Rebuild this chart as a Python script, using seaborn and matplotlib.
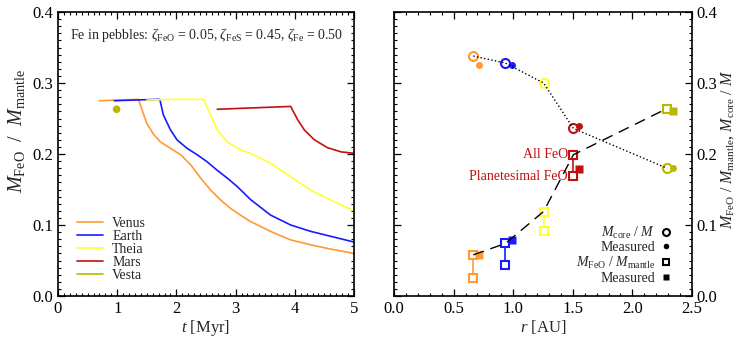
import numpy as np
import pandas as pd
import matplotlib
matplotlib.use('Agg')
import matplotlib.pyplot as plt
from matplotlib.lines import Line2D
from matplotlib.ticker import MultipleLocator, FormatStrFormatter
import seaborn as sns

# =============================================================================
# Data
# =============================================================================

# left panel: FeO mass fraction of the mantle over time
venus_t = [0.70, 1.00, 1.36, 1.42, 1.50, 1.62, 1.73, 1.90, 2.07, 2.24, 2.41, 2.58, 2.75, 2.92,
           3.08, 3.25, 3.59, 3.93, 4.27, 4.61, 5.00]
venus_f = [0.275, 0.276, 0.277, 0.262, 0.243, 0.227, 0.217, 0.208, 0.199, 0.185, 0.166, 0.149, 0.135,
           0.123, 0.114, 0.105, 0.091, 0.079, 0.072, 0.066, 0.060]
earth_t = [0.95, 1.30, 1.72, 1.78, 1.90, 2.01, 2.18, 2.35, 2.52, 2.69, 2.86, 3.03, 3.25, 3.59,
           3.93, 4.27, 4.61, 5.00]
earth_f = [0.275, 0.276, 0.277, 0.255, 0.234, 0.220, 0.208, 0.199, 0.189, 0.177, 0.166, 0.154, 0.136,
           0.114, 0.100, 0.091, 0.084, 0.076]
theia_t = [1.50, 2.00, 2.46, 2.55, 2.69, 2.86, 3.08, 3.25, 3.59, 3.93, 4.27, 4.61, 5.00]
theia_f = [0.276, 0.277, 0.277, 0.260, 0.234, 0.217, 0.206, 0.201, 0.187, 0.168, 0.149, 0.135, 0.120]
mars_t = [2.69, 3.30, 3.93, 4.05, 4.16, 4.33, 4.55, 4.78, 5.00]
mars_f = [0.263, 0.265, 0.267, 0.248, 0.234, 0.220, 0.209, 0.203, 0.201]
vesta_t = [0.99]
vesta_f = [0.263]

# right panel: per body at its orbital distance
bodies = ['Venus', 'Earth', 'Theia', 'Mars', 'Vesta']
colors = ['#ff9933', '#1a1aff', '#ffff33', '#c01010', '#b8b800']
r_model = [0.665, 0.935, 1.255, 1.505, 2.29]
r_meas = [0.715, 0.99, None, 1.55, 2.34]
core_model = [0.338, 0.328, 0.300, 0.236, 0.180]
core_meas = [0.325, 0.325, None, 0.240, 0.180]
feo_all = [0.058, 0.074, 0.119, 0.199, 0.264]
feo_plan = [0.026, 0.044, 0.092, 0.169, None]
feo_meas = [0.058, 0.079, None, 0.179, 0.261]

# =============================================================================
# Style
# =============================================================================
sns.set_theme(style='ticks')
plt.rcParams['font.family'] = ['Liberation Serif', 'DejaVu Serif']
plt.rcParams['mathtext.fontset'] = 'custom'
plt.rcParams['mathtext.rm'] = 'Liberation Serif'
plt.rcParams['mathtext.it'] = 'Liberation Serif:italic'
plt.rcParams['font.size'] = 10
for a in ['x', 'y']:
    plt.rcParams[a + 'tick.direction'] = 'in'
    plt.rcParams[a + 'tick.major.size'] = 5
    plt.rcParams[a + 'tick.minor.size'] = 2.5
    plt.rcParams[a + 'tick.major.width'] = 0.9
    plt.rcParams[a + 'tick.minor.width'] = 0.8
    plt.rcParams[a + 'tick.labelsize'] = 12
    plt.rcParams[a + 'tick.color'] = 'black'
plt.rcParams['axes.linewidth'] = 1.2
plt.rcParams['axes.edgecolor'] = 'black'

fig = plt.figure(figsize=(7.47, 3.42), dpi=100)
ax1 = fig.add_axes([58/747, 1-296/342, 296/747, 284/342])
ax2 = fig.add_axes([394/747, 1-296/342, 298/747, 284/342])

# =============================================================================
# Left panel
# =============================================================================
series = [(venus_t, venus_f), (earth_t, earth_f), (theia_t, theia_f), (mars_t, mars_f)]
for (t, f), name, c in zip(series, bodies, colors):
    df = pd.DataFrame({'t': t, 'f': f})
    sns.lineplot(data=df, x='t', y='f', color=c, lw=1.2, sort=False, ax=ax1, label=name)
sns.scatterplot(x=vesta_t, y=vesta_f, color=colors[4], s=30, edgecolor='none', ax=ax1)
ax1.plot([], [], color=colors[4], lw=1.2, label='Vesta')

ax1.set_xlim(0, 5)
ax1.set_ylim(0, 0.4)
ax1.xaxis.set_major_locator(MultipleLocator(1))
ax1.xaxis.set_minor_locator(MultipleLocator(0.1))
ax1.yaxis.set_major_locator(MultipleLocator(0.1))
ax1.yaxis.set_minor_locator(MultipleLocator(0.01))
ax1.yaxis.set_major_formatter(FormatStrFormatter('%.1f'))
ax1.tick_params(which='both', top=True, right=True)
ax1.set_xlabel(r'$t$ [Myr]', fontsize=12, labelpad=1)
ax1.set_ylabel(r'$M_{\rm FeO}$  /  $M_{\rm mantle}$', fontsize=14.5)
ax1.yaxis.set_label_coords(-0.105, 0.58)
ax1.text(0.04, 0.919, r'Fe in pebbles: $ζ_{\rm FeO}$ = 0.05, $ζ_{\rm FeS}$ = 0.45, $ζ_{\rm Fe}$ = 0.50',
         transform=ax1.transAxes, fontsize=10, va='center')
ax1.legend(loc='lower left', frameon=False, fontsize=10, handlelength=1.9,
           handletextpad=0.65, labelspacing=0.0, borderaxespad=0.0,
           bbox_to_anchor=(0.045, 0.03))

# =============================================================================
# Right panel
# =============================================================================
ax2.plot(r_model, core_model, ls=':', color='black', lw=1.0, zorder=5)
ax2.plot(r_model, feo_all, ls=(0, (8, 5)), color='black', lw=1.0, zorder=5)

for i, c in enumerate(colors):
    if feo_plan[i] is not None:
        ax2.plot([r_model[i], r_model[i]], [feo_all[i], feo_plan[i]], color=c, lw=1.2, zorder=2)
        ax2.plot(r_model[i], feo_plan[i], marker='s', ms=6, mfc='white', mec=c, mew=1.5, zorder=3)
    ax2.plot(r_model[i], feo_all[i], marker='s', ms=6, mfc='white', mec=c, mew=1.5, zorder=3)
    ax2.plot(r_model[i], core_model[i], marker='o', ms=6.5, mfc='white', mec=c, mew=1.5, zorder=3)
    if r_meas[i] is not None:
        ax2.plot(r_meas[i], core_meas[i], marker='o', ms=5, color=c, mec='none', zorder=4)
        ax2.plot(r_meas[i], feo_meas[i], marker='s', ms=5.5, color=c, mec='none', zorder=4)

ax2.text(r_model[3] - 0.045, feo_all[3], 'All FeO', color=colors[3], ha='right', va='center',
         fontsize=10)
ax2.text(r_model[3] - 0.045, feo_plan[3], 'Planetesimal FeO', color=colors[3], ha='right',
         va='center', fontsize=10)

ax2.set_xlim(0, 2.5)
ax2.set_ylim(0, 0.4)
ax2.xaxis.set_major_locator(MultipleLocator(0.5))
ax2.xaxis.set_minor_locator(MultipleLocator(0.1))
ax2.yaxis.set_major_locator(MultipleLocator(0.1))
ax2.yaxis.set_minor_locator(MultipleLocator(0.01))
ax2.xaxis.set_major_formatter(FormatStrFormatter('%.1f'))
ax2.yaxis.set_major_formatter(FormatStrFormatter('%.1f'))
ax2.tick_params(which='both', top=True, left=True, right=True, labelleft=False, labelright=True)
ax2.yaxis.set_label_position('right')
ax2.set_xlabel(r'$r$ [AU]', fontsize=12, labelpad=1)
ax2.set_ylabel(r'$M_{\rm FeO}$ / $M_{\rm mantle}$, $M_{\rm core}$ / $M$', fontsize=11.5)
ax2.yaxis.set_label_coords(1.092, 0.515)

handles = [
    Line2D([], [], ls='none', marker='o', ms=5, mfc='white', mec='black', mew=1.5),
    Line2D([], [], ls='none', marker='o', ms=4, color='black', mec='none'),
    Line2D([], [], ls='none', marker='s', ms=5, mfc='white', mec='black', mew=1.5),
    Line2D([], [], ls='none', marker='s', ms=4.5, color='black', mec='none'),
]
labels = [r'$M_{\rm core}$ / $M$', 'Measured', r'$M_{\rm FeO}$ / $M_{\rm mantle}$', 'Measured']
ax2.legend(handles, labels, loc='lower right', frameon=False, fontsize=10, markerfirst=False,
           handlelength=0.8, handletextpad=0.4, labelspacing=0.05, borderaxespad=0.0,
           bbox_to_anchor=(0.95, 0.02))

fig.savefig('out.png', dpi=100)
